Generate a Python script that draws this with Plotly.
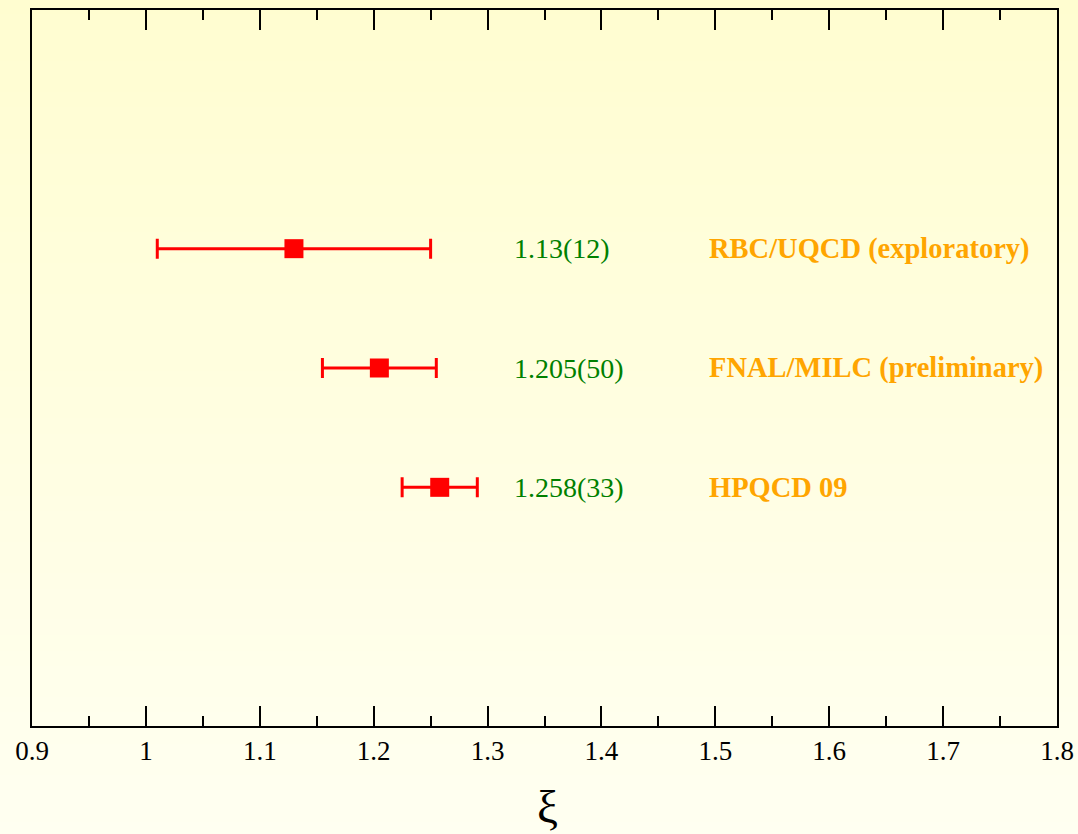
import plotly.graph_objects as go

labels = ["RBC/UQCD (exploratory)", "FNAL/MILC (preliminary)", "HPQCD 09"]
values = [1.13, 1.205, 1.258]
errors = [0.12, 0.05, 0.033]
value_text = ["1.13(12)", "1.205(50)", "1.258(33)"]
rows = [4, 3, 2]
tick_vals = [0.9, 1.0, 1.1, 1.2, 1.3, 1.4, 1.5, 1.6, 1.7, 1.8]
tick_text = ["0.9", "1", "1.1", "1.2", "1.3", "1.4", "1.5", "1.6", "1.7", "1.8"]

FONT = "Liberation Serif"

fig = go.Figure()
fig.add_trace(go.Scatter(
    x=values, y=rows, mode="markers",
    marker=dict(symbol="square", size=19, color="#ff0000"),
    error_x=dict(type="data", array=errors, color="#ff0000", thickness=3, width=10),
    showlegend=False, hoverinfo="skip",
))

for v, lab, r in zip(value_text, labels, rows):
    fig.add_annotation(x=1.3213, y=r, text=v, showarrow=False, xanchor="left", yanchor="middle",
                       font=dict(family=FONT, size=28, color="#008000"))
    fig.add_annotation(x=1.4923, y=r, text="<b>" + lab + "</b>", showarrow=False, xanchor="left",
                       yanchor="middle", font=dict(family=FONT, size=28.5, color="#ffa500"))

fig.add_annotation(x=0.503, y=-0.113, xref="paper", yref="paper", text="ξ", showarrow=False,
                   xanchor="center", yanchor="middle", font=dict(family=FONT, size=47, color="black"))

# vertical background gradient
n = 60
top = (255, 253, 206)
bot = (255, 255, 242)
shapes = []
for i in range(n):
    t = i / (n - 1)
    c = tuple(round(top[k] + (bot[k] - top[k]) * t) for k in range(3))
    shapes.append(dict(type="rect", xref="paper", yref="paper",
                       x0=-0.1, x1=1.1, y0=1.1 - (i + 1) * 1.3 / n, y1=1.1 - i * 1.3 / n + 0.002,
                       fillcolor="rgb(%d,%d,%d)" % c, line=dict(width=0), layer="below"))

fig.update_layout(
    width=1078, height=834,
    margin=dict(l=32, r=21, t=10, b=108, autoexpand=False),
    paper_bgcolor="rgb(255,255,242)",
    plot_bgcolor="rgba(0,0,0,0)",
    shapes=shapes,
    xaxis=dict(range=[0.9, 1.8], tickvals=tick_vals, ticktext=tick_text, automargin=False,
               ticks="inside", ticklen=20, tickwidth=1.5, tickcolor="black",
               minor=dict(ticks="inside", ticklen=10, tickwidth=1.5, tickcolor="black", dtick=0.05, tick0=0.9),
               showline=True, linewidth=2, linecolor="black", mirror="ticks",
               showgrid=False, zeroline=False,
               tickfont=dict(family=FONT, size=27, color="black")),
    yaxis=dict(range=[0, 6], showticklabels=False, ticks="", showgrid=False, zeroline=False,
               automargin=False,
               showline=True, linewidth=2, linecolor="black", mirror=True),
)

fig.write_html("out.html")
